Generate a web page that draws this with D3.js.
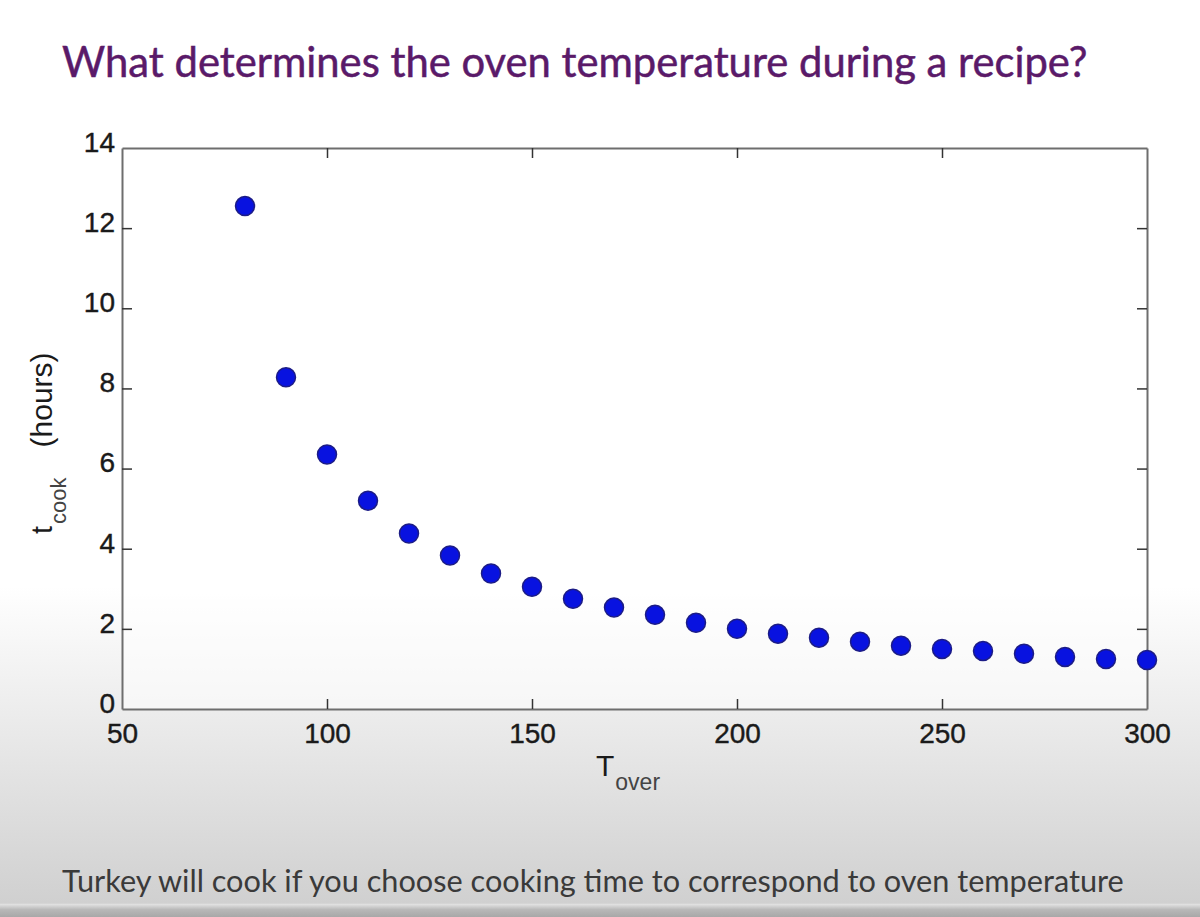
<!DOCTYPE html>
<html>
<head>
<meta charset="utf-8">
<script src="https://cdn.jsdelivr.net/npm/d3@7"></script>
<style>
	body { margin: 0; overflow: hidden; }
	svg { display: block; }
</style>
</head>
<body>
<svg id="chart"></svg>
<script>
// Graph Dimensions
const width = 1200;
const height = 917;

// plot box (pixel edges of the axes box)
const margin = {
	top: 148,
	right: 53,
	bottom: 208,
	left: 122,
};

const innerWidth = width - margin.left - margin.right;
const innerHeight = height - margin.top - margin.bottom;

// Data: oven temperature vs cooking time
const ovenTemps = [80, 90, 100, 110, 120, 130, 140, 150, 160, 170, 180, 190,
	200, 210, 220, 230, 240, 250, 260, 270, 280, 290, 300];
const cookHours = [12.55, 8.28, 6.35, 5.2, 4.38, 3.83, 3.38, 3.05, 2.75, 2.53, 2.35, 2.15,
	2.0, 1.88, 1.78, 1.68, 1.58, 1.5, 1.45, 1.38, 1.3, 1.25, 1.22];

const xTicks = [50, 100, 150, 200, 250, 300];
const yTicks = [0, 2, 4, 6, 8, 10, 12, 14];

const titleText = "What determines the oven temperature during a recipe?";
const footText = "Turkey will cook if you choose cooking time to correspond to oven temperature";

const svg = d3.select("#chart")
	.attr("width", width)
	.attr("height", height);

// slide background: white fading into grey at the bottom
const defs = svg.append("defs");
const grad = defs.append("linearGradient")
	.attr("id", "bg")
	.attr("x1", 0).attr("y1", 0)
	.attr("x2", 0).attr("y2", 1);
grad.append("stop").attr("offset", "0").attr("stop-color", "#ffffff");
grad.append("stop").attr("offset", "0.64").attr("stop-color", "#ffffff");
grad.append("stop").attr("offset", "0.80").attr("stop-color", "#e9e9e9");
grad.append("stop").attr("offset", "0.985").attr("stop-color", "#d0d0d0");
grad.append("stop").attr("offset", "0.986").attr("stop-color", "#e2e2e2");
grad.append("stop").attr("offset", "0.992").attr("stop-color", "#b8b8b8");
grad.append("stop").attr("offset", "1").attr("stop-color", "#a8a8a8");

svg.append("rect")
	.attr("width", width)
	.attr("height", height)
	.attr("fill", "url(#bg)");

// fit a text line to the width it has on the slide
function fitWidth(sel, target) {
	const w = sel.node().getComputedTextLength();
	const fs = parseFloat(sel.style("font-size"));
	sel.style("font-size", `${(fs * target / w).toFixed(2)}px`);
}

// title
const title = svg.append("text")
	.attr("x", 62)
	.attr("y", 77)
	.attr("fill", "#5a1a69")
	.attr("stroke", "#5a1a69")
	.attr("stroke-width", 0.5)
	.style("font-family", "Lato, 'Open Sans', sans-serif")
	.style("font-size", "40px")
	.text(titleText);
fitWidth(title, 1026);

const g = svg.append("g")
	.attr("transform", `translate(${margin.left}, ${margin.top})`);

// plot area
g.append("rect")
	.attr("width", innerWidth)
	.attr("height", innerHeight)
	.attr("fill", "#ffffff")
	.attr("fill-opacity", 0.55);

const xScale = d3.scaleLinear().domain([50, 300]).range([0, innerWidth]);
const yScale = d3.scaleLinear().domain([0, 14]).range([innerHeight, 0]);

const tickFont = "'Liberation Sans', Arial, sans-serif";

// bottom axis with labels, ticks pointing inward
const xAxis = g.append("g")
	.attr("transform", `translate(0, ${innerHeight})`)
	.call(d3.axisBottom(xScale).tickValues(xTicks).tickSizeInner(-10).tickSizeOuter(0).tickPadding(10));

// top axis, ticks only
const xAxisTop = g.append("g")
	.call(d3.axisTop(xScale).tickValues(xTicks).tickSizeInner(-10).tickSizeOuter(0).tickFormat(""));

// left axis with labels
const yAxis = g.append("g")
	.call(d3.axisLeft(yScale).tickValues(yTicks).tickSizeInner(-10).tickSizeOuter(0).tickPadding(7));

// right axis, ticks only
const yAxisRight = g.append("g")
	.attr("transform", `translate(${innerWidth}, 0)`)
	.call(d3.axisRight(yScale).tickValues(yTicks).tickSizeInner(-10).tickSizeOuter(0).tickFormat(""));

[xAxis, xAxisTop, yAxis, yAxisRight].forEach((ax) => {
	ax.select(".domain").attr("stroke", "#6e6e6e").attr("stroke-width", 2);
	ax.selectAll(".tick line").attr("stroke", "#333333").attr("stroke-width", 1.5);
	ax.selectAll(".tick text")
		.attr("fill", "#1a1a1a")
		.attr("stroke", "#1a1a1a")
		.attr("stroke-width", 0.4)
		.style("font-family", tickFont)
		.style("font-size", "28px");
});

// the "0" and "50" overlap at the corner like the original
xAxis.selectAll(".tick text").attr("dy", "0.85em");
yAxis.selectAll(".tick text").attr("dy", "0.12em");

// hide the edge tick lines that sit on the box border
[xAxis, xAxisTop].forEach((ax) => {
	ax.selectAll(".tick line").filter((d) => d === 50 || d === 300).remove();
});
[yAxis, yAxisRight].forEach((ax) => {
	ax.selectAll(".tick line").filter((d) => d === 0 || d === 14).remove();
});

// data points
g.selectAll("circle")
	.data(ovenTemps.map((t, i) => [t, cookHours[i]]))
	.join("circle")
	.attr("cx", (d) => xScale(d[0]))
	.attr("cy", (d) => yScale(d[1]))
	.attr("r", 9.5)
	.attr("fill", "#0812e0")
	.attr("stroke", "#1c1c86")
	.attr("stroke-width", 1.5);

// x axis label T_over
const xLabel = svg.append("text")
	.attr("x", 596)
	.attr("y", 776)
	.attr("fill", "#1a1a1a")
	.style("font-family", tickFont)
	.style("font-size", "30px");
xLabel.append("tspan").text("T");
xLabel.append("tspan")
	.attr("dy", 14)
	.attr("dx", 1)
	.style("font-size", "23px")
	.attr("fill", "#444")
	.text("over");

// y axis label t_cook (hours)
const yLabel = svg.append("text")
	.attr("transform", `translate(52, 534) rotate(-90)`)
	.attr("fill", "#1a1a1a")
	.style("font-family", tickFont)
	.style("font-size", "29px");
yLabel.append("tspan").text("t");
yLabel.append("tspan")
	.attr("dy", 14)
	.attr("dx", 2)
	.style("font-size", "22px")
	.attr("fill", "#444")
	.text("cook");
yLabel.append("tspan")
	.attr("dy", -14)
	.attr("dx", 30)
	.style("font-size", "30px")
	.text("(hours)");

// footer caption
const foot = svg.append("text")
	.attr("x", 62)
	.attr("y", 892)
	.attr("fill", "#3a3a3a")
	.style("font-family", "Lato, 'Open Sans', sans-serif")
	.style("font-size", "30px")
	.text(footText);
fitWidth(foot, 1062);
</script>
</body>
</html>
